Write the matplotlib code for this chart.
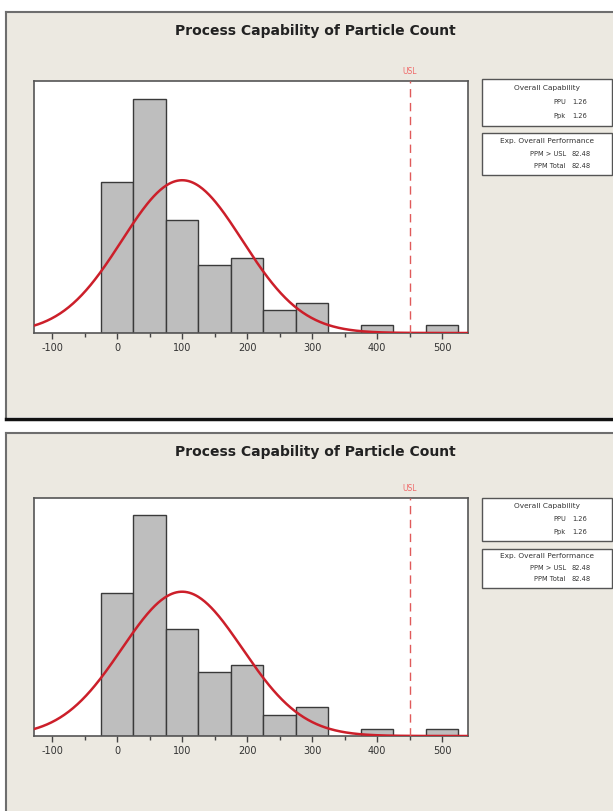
import numpy as np
import matplotlib
matplotlib.use("Agg")
from matplotlib import pyplot as plt
from matplotlib.patches import Rectangle

# histogram of particle count (bin centres, bin width 50)
bin_centers = [0, 50, 100, 150, 200, 250, 300, 400, 500]
counts = [20, 31, 15, 9, 10, 3, 4, 1, 1]
bin_width = 50

# fitted normal (overall) and spec limit
mean = 100.0
stdev = 92.6
usl = 450

x_ticks = [-100, 0, 100, 200, 300, 400, 500]
x_minor = [-50, 50, 150, 250, 350, 450]

cap_lines = [("PPU", "1.26"), ("Ppk", "1.26")]
perf_lines = [("PPM > USL", "82.48"), ("PPM Total", "82.48")]

W, H = 613, 811
PANEL_BG = "#ECE9E1"

plt.rcParams["axes.unicode_minus"] = False


def fx(px):
    return px / W


def fy(py):
    return 1 - py / H


def draw_panel(fig, top, bottom, title_y, ax_top, ax_bottom, box1, box2):
    # window background + borders
    fig.add_artist(Rectangle((fx(6), fy(bottom)), fx(607), (bottom - top) / H,
                             transform=fig.transFigure, facecolor=PANEL_BG,
                             edgecolor="none", zorder=0))
    fig.add_artist(plt.Line2D([fx(6), fx(613)], [fy(top), fy(top)],
                              transform=fig.transFigure, color="#6e6e6e", lw=1.5))
    fig.add_artist(plt.Line2D([fx(6), fx(6)], [fy(top), fy(bottom)],
                              transform=fig.transFigure, color="#6e6e6e", lw=1.5))

    fig.text(fx(315), fy(title_y), "Process Capability of Particle Count",
             ha="center", va="center", fontsize=10, fontweight="bold", color="#222222")

    ax = fig.add_axes([fx(34), fy(ax_bottom), fx(434), (ax_bottom - ax_top) / H])
    ax.set_facecolor("white")
    ax.bar(bin_centers, counts, width=bin_width, color="#BEBEBE",
           edgecolor="#3a3a3a", linewidth=1.0, zorder=2)

    xs = np.linspace(-128, 540, 400)
    dens = np.exp(-0.5 * ((xs - mean) / stdev) ** 2) / (stdev * np.sqrt(2 * np.pi))
    ax.plot(xs, dens * sum(counts) * bin_width, color="#cc1f2a", lw=1.8, zorder=3)

    ax.axvline(usl, color="#e05a5a", lw=1.0, dashes=(6, 4), zorder=3)
    ax.text(usl, 1.02, "USL", transform=ax.get_xaxis_transform(), ha="center",
            va="bottom", fontsize=5.5, color="#f06a6a", clip_on=False)

    ax.set_xlim(-128, 540)
    ax.set_ylim(0, 33.4)
    ax.set_xticks(x_ticks)
    ax.set_xticks(x_minor, minor=True)
    ax.set_yticks([])
    ax.tick_params(axis="x", which="major", direction="out", length=4, width=1,
                   color="#444444", labelsize=7, labelcolor="#333333", pad=3)
    ax.tick_params(axis="x", which="minor", direction="out", length=3, width=1,
                   color="#444444")
    for sp in ax.spines.values():
        sp.set_color("#555555")
        sp.set_linewidth(1.2)

    # info boxes
    for (y0, y1), head, lines in [(box1, "Overall Capability", cap_lines),
                                  (box2, "Exp. Overall Performance", perf_lines)]:
        h = y1 - y0
        fig.add_artist(Rectangle((fx(482), fy(y1)), fx(130), h / H,
                                 transform=fig.transFigure, facecolor="white",
                                 edgecolor="#555555", lw=1.0))
        fig.text(fx(547), fy(y0 + h * 0.19), head, ha="center", va="center",
                 fontsize=5.3, color="#333333")
        for i, (lab, val) in enumerate(lines):
            yy = fy(y0 + h * (0.49 + 0.29 * i))
            fig.text(fx(566), yy, lab, ha="right", va="center", fontsize=4.8,
                     color="#333333")
            fig.text(fx(572), yy, val, ha="left", va="center", fontsize=4.8,
                     color="#333333")
    return ax


if __name__ == "__main__":
    fig = plt.figure(figsize=(W / 100, H / 100), dpi=100, facecolor="white")

    draw_panel(fig, 12, 417, 31, 81, 333, (79, 126), (133, 175))
    # thick dark bottom edge of the first window
    fig.add_artist(plt.Line2D([fx(6), fx(613)], [fy(418.5), fy(418.5)],
                              transform=fig.transFigure, color="#111111", lw=2.5))

    draw_panel(fig, 433, 811, 452, 498, 736, (498, 541), (549, 588))

    fig.savefig("out.png", dpi=100, facecolor="white")
